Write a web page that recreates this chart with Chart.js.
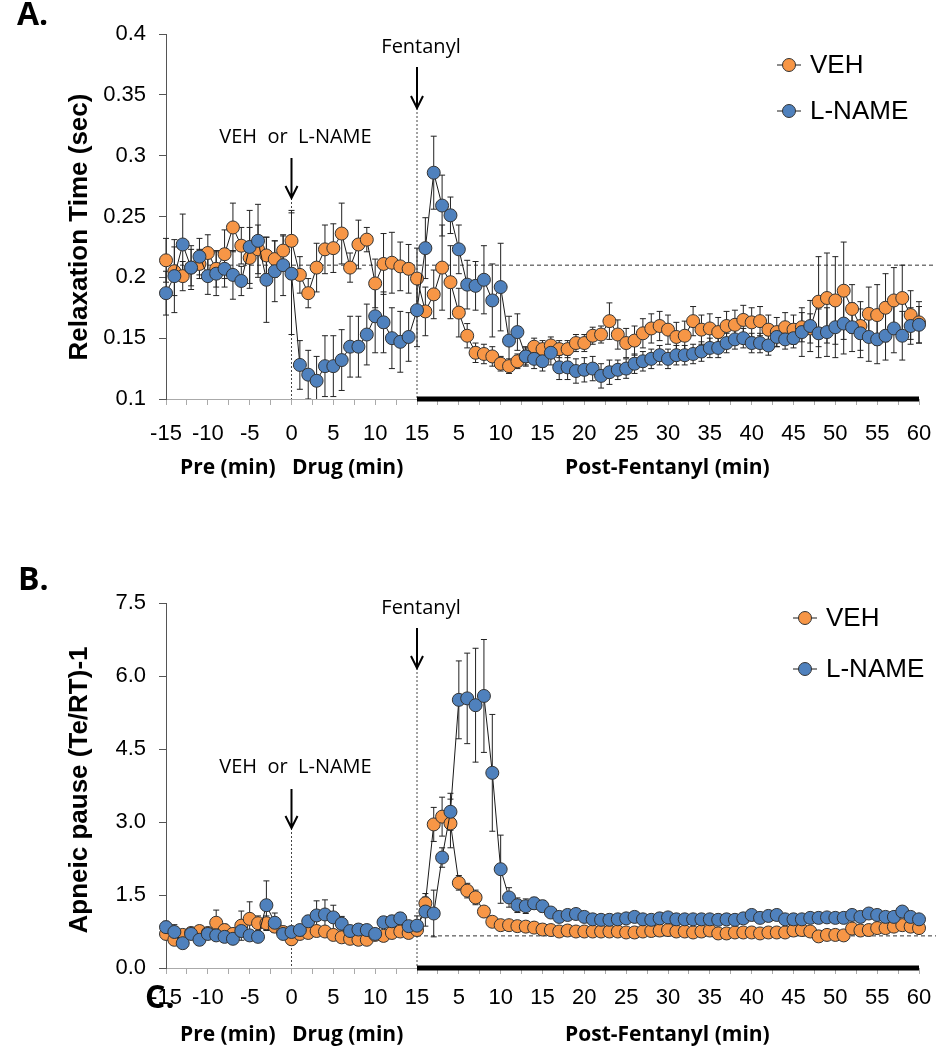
<!DOCTYPE html>
<html>
<head>
<meta charset="utf-8">
<script src="https://cdn.jsdelivr.net/npm/chart.js@4.4.0/dist/chart.umd.min.js"></script>
<style>
  body { margin: 0; background: #fff; }
  #wrap { position: relative; width: 936px; height: 1050px; }
  canvas { position: absolute; left: 0; }
</style>
</head>
<body>
<div id="wrap">
  <canvas id="chartA" width="936" height="525" style="top:0"></canvas>
  <canvas id="chartB" width="936" height="525" style="top:525px"></canvas>
</div>
<script>
// time axis: pre/drug minutes, then post-fentanyl minutes (one point per minute)
const preMinutes = [-15,-14,-13,-12,-11,-10,-9,-8,-7,-6,-5,-4,-3,-2,-1,0,1,2,3,4,5,6,7,8,9,10,11,12,13,14,15];
const postMinutes = [1,2,3,4,5,6,7,8,9,10,11,12,13,14,15,16,17,18,19,20,21,22,23,24,25,26,27,28,29,30,
  31,32,33,34,35,36,37,38,39,40,41,42,43,44,45,46,47,48,49,50,51,52,53,54,55,56,57,58,59,60];
const timeLabels = preMinutes.concat(postMinutes);
const DRUG_INDEX = 15;   // time 0
const FENT_INDEX = 30;   // fentanyl given

// A. relaxation time (sec)
const vehRelax = [0.214,0.205,0.201,0.208,0.211,0.220,0.207,0.219,0.241,0.226,0.216,0.223,0.218,0.215,0.222,0.230,
  0.202,0.187,0.208,0.223,0.224,0.236,0.208,0.227,0.231,0.195,0.211,0.212,0.209,0.207,0.199,
  0.172,0.186,0.208,0.196,0.171,0.152,0.138,0.137,0.135,0.129,0.127,0.131,0.135,0.143,0.141,0.144,0.141,0.141,0.146,0.146,
  0.152,0.153,0.164,0.153,0.146,0.148,0.154,0.158,0.160,0.157,0.151,0.152,0.164,0.157,0.158,0.155,0.160,0.161,0.165,0.163,
  0.164,0.157,0.155,0.159,0.157,0.159,0.158,0.180,0.183,0.181,0.189,0.174,0.160,0.170,0.169,0.175,0.181,0.183,0.169,0.163];
const vehRelaxErr = [0.018,0.02,0.012,0.015,0.012,0.015,0.015,0.02,0.02,0.015,0.025,0.02,0.015,0.015,0.012,0.025,
  0.015,0.012,0.02,0.02,0.02,0.025,0.012,0.02,0.01,0.02,0.025,0.025,0.02,0.02,0.025,
  0.02,0.02,0.035,0.03,0.02,0.01,0.008,0.008,0.008,0.006,0.006,0.006,0.007,0.007,0.007,0.007,0.007,0.007,0.007,0.007,
  0.007,0.007,0.015,0.012,0.012,0.012,0.012,0.012,0.012,0.012,0.012,0.012,0.012,0.012,0.012,0.012,0.012,0.012,0.012,0.012,
  0.012,0.012,0.012,0.012,0.012,0.012,0.012,0.037,0.037,0.036,0.04,0.02,0.02,0.022,0.025,0.028,0.027,0.027,0.02,0.017];
const lnameRelax = [0.187,0.201,0.227,0.208,0.217,0.201,0.203,0.207,0.202,0.197,0.225,0.230,0.198,0.205,0.210,0.203,
  0.128,0.120,0.115,0.127,0.127,0.132,0.143,0.143,0.153,0.168,0.163,0.150,0.147,0.151,0.173,
  0.224,0.286,0.259,0.251,0.223,0.194,0.193,0.198,0.181,0.192,0.148,0.155,0.135,0.133,0.131,0.138,0.126,0.126,0.123,0.124,
  0.125,0.119,0.122,0.124,0.125,0.129,0.131,0.133,0.136,0.133,0.136,0.136,0.137,0.139,0.142,0.142,0.146,0.149,0.150,0.146,
  0.146,0.144,0.151,0.149,0.150,0.155,0.160,0.154,0.155,0.159,0.162,0.159,0.154,0.151,0.149,0.152,0.158,0.152,0.160,0.161];
const lnameRelaxErr = [0.018,0.03,0.025,0.018,0.015,0.015,0.018,0.015,0.02,0.012,0.03,0.03,0.035,0.025,0.025,0.05,
  0.02,0.02,0.02,0.025,0.025,0.025,0.025,0.025,0.025,0.03,0.025,0.025,0.025,0.02,0.03,
  0.025,0.03,0.025,0.015,0.02,0.02,0.02,0.028,0.03,0.036,0.02,0.015,0.008,0.008,0.008,0.01,0.01,0.01,0.01,0.01,
  0.01,0.01,0.01,0.008,0.008,0.008,0.008,0.008,0.008,0.008,0.008,0.008,0.008,0.008,0.008,0.008,0.008,0.008,0.008,0.008,
  0.008,0.008,0.008,0.008,0.008,0.02,0.021,0.02,0.02,0.025,0.025,0.02,0.02,0.02,0.02,0.02,0.02,0.02,0.015,0.015];

// B. apneic pause (Te/RT)-1
const vehApnea = [0.70,0.58,0.68,0.72,0.76,0.72,0.93,0.78,0.70,0.87,1.01,0.92,0.92,0.85,0.74,0.59,
  0.70,0.72,0.76,0.75,0.68,0.63,0.60,0.58,0.58,0.68,0.66,0.72,0.75,0.72,0.78,
  1.33,2.95,3.11,2.97,1.75,1.59,1.45,1.16,0.95,0.88,0.88,0.86,0.85,0.83,0.79,0.78,0.75,0.77,0.75,0.75,
  0.75,0.75,0.75,0.75,0.73,0.73,0.75,0.76,0.77,0.78,0.75,0.75,0.73,0.75,0.77,0.71,0.71,0.73,0.73,0.73,
  0.71,0.73,0.73,0.73,0.77,0.78,0.75,0.65,0.68,0.68,0.67,0.81,0.77,0.78,0.82,0.82,0.85,0.88,0.85,0.82];
const vehApneaErr = [0.1,0.08,0.1,0.1,0.1,0.1,0.26,0.12,0.1,0.3,0.35,0.15,0.15,0.12,0.1,0.08,
  0.1,0.1,0.1,0.1,0.1,0.08,0.08,0.08,0.08,0.1,0.1,0.1,0.1,0.1,0.1,
  0.2,0.35,0.4,0.5,0.15,0.15,0.15,0.1,0.06,0.05,0.05,0.05,0.04,0.04,0.04,0.04,0.04,0.04,0.04,0.04,
  0.04,0.04,0.04,0.04,0.04,0.04,0.04,0.04,0.04,0.04,0.04,0.04,0.04,0.04,0.04,0.04,0.04,0.04,0.04,0.04,
  0.04,0.04,0.04,0.04,0.04,0.05,0.08,0.08,0.05,0.05,0.05,0.05,0.05,0.05,0.05,0.05,0.05,0.05,0.05,0.05];
const lnameApnea = [0.84,0.74,0.51,0.70,0.58,0.70,0.67,0.64,0.60,0.76,0.67,0.64,1.29,0.93,0.70,0.74,
  0.78,0.96,1.08,1.10,1.04,0.91,0.76,0.79,0.78,0.70,0.94,0.96,1.02,0.86,0.87,
  1.16,1.12,2.27,3.21,5.51,5.54,5.40,5.59,4.01,2.03,1.45,1.29,1.27,1.33,1.27,1.14,1.05,1.09,1.11,1.05,
  1.00,0.99,0.99,1.00,1.02,1.05,1.00,0.99,1.02,1.04,1.00,1.00,1.00,1.00,1.00,0.99,1.00,0.99,1.02,1.09,
  1.03,1.07,1.09,1.00,1.00,1.00,1.03,1.03,1.04,1.03,1.03,1.09,1.05,1.12,1.09,1.05,1.05,1.16,1.05,1.00];
const lnameApneaErr = [0.12,0.15,0.06,0.1,0.1,0.08,0.08,0.08,0.1,0.12,0.1,0.1,0.5,0.2,0.1,0.1,
  0.1,0.12,0.3,0.3,0.25,0.15,0.1,0.1,0.1,0.1,0.1,0.12,0.12,0.1,0.2,
  0.3,0.48,0.2,0.38,0.8,0.93,1.17,1.16,1.2,0.7,0.2,0.15,0.15,0.12,0.12,0.1,0.08,0.06,0.06,0.06,
  0.05,0.05,0.05,0.05,0.05,0.05,0.05,0.05,0.05,0.05,0.05,0.05,0.05,0.05,0.05,0.05,0.05,0.05,0.05,0.05,
  0.05,0.05,0.05,0.05,0.05,0.05,0.05,0.05,0.05,0.05,0.05,0.05,0.05,0.05,0.05,0.05,0.05,0.05,0.05,0.05];

const baselineRelax = 0.21;
const baselineApnea = 0.66;

const VEH_COLOR = '#F79646';
const LNAME_COLOR = '#4F81BD';
const TICK_FONT = { family: '"Liberation Sans", Arial, sans-serif', size: 22 };
const NOTE_FONT = '20px "Open Sans", sans-serif';
const BOLD_FONT = 'bold 21px "Open Sans", sans-serif';

function points(values) {
  return values.map((v, i) => ({ x: i, y: v }));
}

function series(label, values, errors, color, order) {
  return {
    label: label,
    data: points(values),
    errors: errors,
    order: order,
    borderColor: '#1a1a1a',
    borderWidth: 1,
    backgroundColor: color,
    pointBackgroundColor: color,
    pointBorderColor: '#333',
    pointBorderWidth: 1,
    pointRadius: 6.5,
    pointHoverRadius: 6.5,
    tension: 0,
    clip: false
  };
}

// error bars + reference lines go under the markers
const underlay = {
  id: 'underlay',
  beforeDatasetsDraw(chart, args, opts) {
    const { ctx, chartArea, scales: { x, y } } = chart;
    ctx.save();
    ctx.strokeStyle = '#333';
    ctx.lineWidth = 1;
    ctx.setLineDash([4, 3]);
    const by = y.getPixelForValue(opts.baseline);
    ctx.beginPath();
    ctx.moveTo(x.getPixelForValue(opts.baselineFrom), by);
    ctx.lineTo(936, by);
    ctx.stroke();
    ctx.setLineDash([2, 2]);
    ctx.strokeStyle = '#444';
    ctx.beginPath();
    ctx.moveTo(x.getPixelForValue(DRUG_INDEX), opts.drugTip);
    ctx.lineTo(x.getPixelForValue(DRUG_INDEX), chartArea.bottom);
    ctx.moveTo(x.getPixelForValue(FENT_INDEX), opts.fentTip);
    ctx.lineTo(x.getPixelForValue(FENT_INDEX), chartArea.bottom);
    ctx.stroke();
    ctx.setLineDash([]);

    ctx.beginPath();
    ctx.rect(chartArea.left - 10, chartArea.top, chartArea.width + 20, chartArea.height);
    ctx.clip();
    ctx.strokeStyle = '#222';
    chart.data.datasets.forEach((ds, i) => {
      const meta = chart.getDatasetMeta(i);
      meta.data.forEach((pt, j) => {
        const v = ds.data[j].y, e = ds.errors[j];
        const top = y.getPixelForValue(v + e), bot = y.getPixelForValue(v - e);
        ctx.beginPath();
        ctx.moveTo(pt.x, top); ctx.lineTo(pt.x, bot);
        ctx.moveTo(pt.x - 3, top); ctx.lineTo(pt.x + 3, top);
        ctx.moveTo(pt.x - 3, bot); ctx.lineTo(pt.x + 3, bot);
        ctx.stroke();
      });
    });
    ctx.restore();
  }
};

function arrow(ctx, x, y0, y1) {
  ctx.beginPath();
  ctx.moveTo(x, y0);
  ctx.lineTo(x, y1);
  ctx.moveTo(x - 6, y1 - 12);
  ctx.lineTo(x, y1);
  ctx.lineTo(x + 6, y1 - 12);
  ctx.stroke();
}

const decor = {
  id: 'decor',
  afterDraw(chart, args, opts) {
    const { ctx, chartArea, scales: { x } } = chart;
    const xd = x.getPixelForValue(DRUG_INDEX), xf = x.getPixelForValue(FENT_INDEX);
    ctx.save();
    // post-fentanyl bar on the axis
    ctx.fillStyle = '#000';
    ctx.fillRect(xf, chartArea.bottom - 2.5, x.getPixelForValue(timeLabels.length - 1) - xf, 5);

    // arrows and notes
    ctx.strokeStyle = '#000';
    ctx.lineWidth = 2;
    arrow(ctx, xd, opts.drugTop, opts.drugTip);
    arrow(ctx, xf, opts.fentTop, opts.fentTip);
    ctx.fillStyle = '#000';
    ctx.font = NOTE_FONT;
    ctx.textAlign = 'center';
    ctx.textBaseline = 'middle';
    ctx.fillText('VEH  or  L-NAME', xd + 4, opts.drugTextY);
    ctx.fillText('Fentanyl', xf + 4, opts.fentTextY);

    // legend
    ctx.lineWidth = 1;
    ctx.font = '26px "Liberation Sans", Arial, sans-serif';
    ctx.textAlign = 'left';
    chart.data.datasets.forEach((ds, i) => {
      const ly = opts.legendY[i];
      ctx.strokeStyle = '#1a1a1a';
      ctx.beginPath();
      ctx.moveTo(opts.legendX - 12, ly); ctx.lineTo(opts.legendX + 12, ly);
      ctx.stroke();
      ctx.beginPath();
      ctx.arc(opts.legendX, ly, 6.5, 0, Math.PI * 2);
      ctx.fillStyle = ds.pointBackgroundColor;
      ctx.fill();
      ctx.strokeStyle = '#333';
      ctx.stroke();
      ctx.fillStyle = '#000';
      ctx.fillText(ds.label, opts.legendX + 21, ly + 1);
    });

    // phase labels
    ctx.font = BOLD_FONT;
    ctx.fillText('Pre (min)   Drug (min)', 180, opts.phaseY);
    ctx.fillText('Post-Fentanyl (min)', 565, opts.phaseY);

    // y title
    ctx.save();
    ctx.translate(opts.titleX, opts.titleY);
    ctx.rotate(-Math.PI / 2);
    ctx.textAlign = 'center';
    ctx.font = 'bold 26px "Liberation Sans", Arial, sans-serif';
    ctx.fillText(opts.title, 0, 0);
    ctx.restore();

    // panel letters
    ctx.font = 'bold 32px "Open Sans", sans-serif';
    opts.letters.forEach(l => ctx.fillText(l.text, l.x, l.y));
    ctx.restore();
  }
};

function makeChart(id, cfg) {
  return new Chart(document.getElementById(id), {
    type: 'line',
    data: {
      datasets: [
        series('VEH', cfg.veh, cfg.vehErr, VEH_COLOR, 1),
        series('L-NAME', cfg.lname, cfg.lnameErr, LNAME_COLOR, 0)
      ]
    },
    options: {
      responsive: false,
      animation: false,
      devicePixelRatio: 1,
      layout: { padding: { top: cfg.top, right: 17, bottom: 0, left: 0 } },
      scales: {
        x: {
          type: 'linear',
          min: 0,
          max: timeLabels.length - 1,
          afterFit: s => { s.height = cfg.xHeight; s.paddingLeft = 0; s.paddingRight = 0; },
          border: { color: '#aaa', width: 1 },
          grid: { drawOnChartArea: false, drawTicks: true, tickLength: 6, color: '#aaa' },
          ticks: {
            stepSize: 2.5,
            autoSkip: false,
            maxTicksLimit: 100,
            maxRotation: 0,
            padding: cfg.xPad,
            color: '#000',
            font: TICK_FONT,
            callback: v => (Number.isInteger(v) && v % 5 === 0) ? String(timeLabels[v]) : ''
          }
        },
        y: {
          min: cfg.yMin,
          max: cfg.yMax,
          afterFit: s => { s.width = 166; },
          border: { color: '#555', width: 1 },
          grid: { drawOnChartArea: false, drawTicks: true, tickLength: 7, color: '#555' },
          ticks: {
            stepSize: cfg.yStep,
            padding: 13,
            color: '#000',
            font: TICK_FONT,
            callback: cfg.yFormat
          }
        }
      },
      plugins: {
        legend: { display: false },
        tooltip: { enabled: false },
        underlay: { baseline: cfg.baseline, baselineFrom: cfg.baselineFrom, drugTip: cfg.drugTip, fentTip: cfg.fentTip },
        decor: {
          drugTop: cfg.drugTop, drugTip: cfg.drugTip, drugTextY: cfg.drugTextY,
          fentTop: cfg.fentTop, fentTip: cfg.fentTip, fentTextY: cfg.fentTextY,
          legendX: cfg.legendX, legendY: cfg.legendY,
          phaseY: cfg.phaseY, title: cfg.title, titleX: 80, titleY: cfg.titleY,
          letters: cfg.letters
        }
      }
    },
    plugins: [underlay, decor]
  });
}

makeChart('chartA', {
  veh: vehRelax, vehErr: vehRelaxErr, lname: lnameRelax, lnameErr: lnameRelaxErr,
  top: 34, xHeight: 126, xPad: 16,
  yMin: 0.1, yMax: 0.4, yStep: 0.05, yFormat: v => String(+v.toFixed(2)),
  baseline: baselineRelax, baselineFrom: 0,
  drugTop: 158, drugTip: 198, drugTextY: 137,
  fentTop: 67, fentTip: 108, fentTextY: 47,
  legendX: 789, legendY: [65, 111],
  phaseY: 468, title: 'Relaxation Time (sec)', titleY: 227,
  letters: [{ text: 'A.', x: 17, y: 16 }]
});

makeChart('chartB', {
  veh: vehApnea, vehErr: vehApneaErr, lname: lnameApnea, lnameErr: lnameApneaErr,
  top: 78, xHeight: 82, xPad: 11,
  yMin: 0, yMax: 7.5, yStep: 1.5, yFormat: v => v.toFixed(1),
  baseline: baselineApnea, baselineFrom: FENT_INDEX,
  drugTop: 264, drugTip: 303, drugTextY: 242,
  fentTop: 103, fentTip: 143, fentTextY: 83,
  legendX: 805, legendY: [93, 144],
  phaseY: 510, title: 'Apneic pause (Te/RT)-1', titleY: 265,
  letters: [{ text: 'B.', x: 18, y: 56 }, { text: 'C.', x: 145, y: 474 }]
});
</script>
</body>
</html>
